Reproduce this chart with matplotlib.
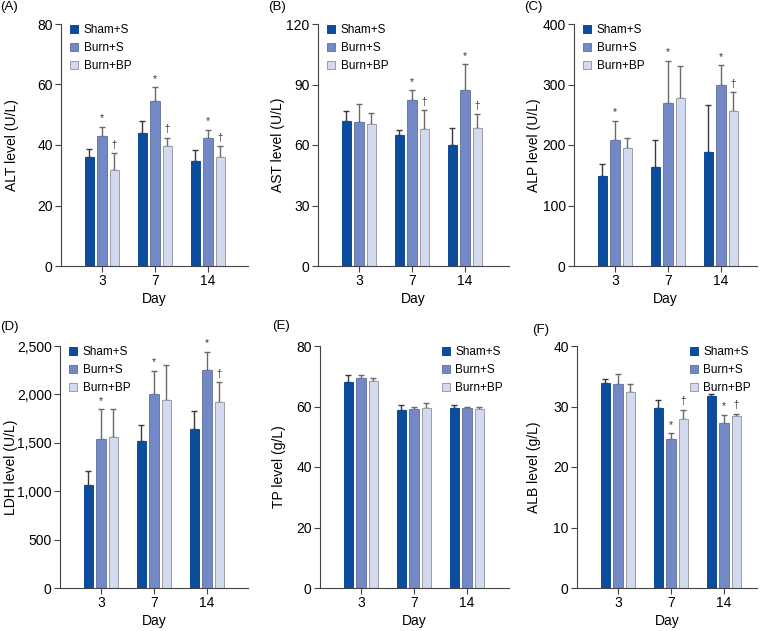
import numpy as np
import matplotlib
matplotlib.use('Agg')
import matplotlib.pyplot as plt
from matplotlib.ticker import FuncFormatter

plt.rcParams['font.family'] = ['Liberation Sans', 'DejaVu Sans']

days = ['3', '7', '14']
groups = ['Sham+S', 'Burn+S', 'Burn+BP']

# means and upper error-bar ends, rows = groups, cols = days
alt_mean = [[35.9, 44.0, 34.7], [42.9, 54.4, 42.4], [31.7, 39.6, 35.9]]
alt_top = [[38.6, 47.8, 38.2], [46.1, 59.1, 45.0], [37.2, 42.4, 39.6]]
ast_mean = [[71.7, 64.8, 59.8], [71.2, 82.3, 87.1], [70.6, 67.8, 68.6]]
ast_top = [[76.8, 67.3, 68.3], [80.2, 87.1, 100.1], [75.7, 77.2, 75.2]]
alp_mean = [[149, 163, 189], [209, 269, 299], [195, 277, 256]]
alp_top = [[168, 209, 266], [240, 339, 332], [212, 330, 287]]
ldh_mean = [[1064, 1515, 1645], [1538, 2002, 2257], [1562, 1947, 1917]]
ldh_top = [[1212, 1686, 1830], [1845, 2246, 2438], [1845, 2304, 2126]]
tp_mean = [[68.1, 58.8, 59.6], [69.5, 59.2, 59.4], [68.4, 59.6, 59.2]]
tp_top = [[70.4, 60.4, 60.5], [70.4, 60.0, 60.0], [69.3, 61.1, 60.0]]
alb_mean = [[33.9, 29.7, 31.7], [33.7, 24.7, 27.3], [32.4, 27.9, 28.4]]
alb_top = [[34.6, 31.0, 32.1], [35.3, 25.6, 28.6], [33.7, 29.5, 28.8]]

# significance marks: (group index, day index, symbol)
alt_sig = [(1, 0, '*'), (1, 1, '*'), (1, 2, '*'), (2, 0, '†'), (2, 1, '†'), (2, 2, '†')]
ast_sig = [(1, 1, '*'), (1, 2, '*'), (2, 1, '†'), (2, 2, '†')]
alp_sig = [(1, 0, '*'), (1, 1, '*'), (1, 2, '*'), (2, 2, '†')]
ldh_sig = [(1, 0, '*'), (1, 1, '*'), (1, 2, '*'), (2, 2, '†')]
tp_sig = []
alb_sig = [(1, 1, '*'), (1, 2, '*'), (2, 1, '†'), (2, 2, '†')]

colors = ['#0b4c9c', '#7389c7', '#d3d9ee']
edges = ['#0b4c9c', '#6d7aa0', '#9a9ca6']
ecols = ['#3a3a3a', '#6a6a6a', '#6a6a6a']

W, H = 763, 631
fig = plt.figure(figsize=(W / 100, H / 100), dpi=100)

def pix_axes(l, r, t, b):
    return fig.add_axes([l / W, 1 - b / H, (r - l) / W, (b - t) / H])

# label, y label, means, error tops, marks, y max, y step, axes box (px),
# legend corner, panel letter position (px), y label centre x (px)
panels = [
    ('(A)', 'ALT level (U/L)', alt_mean, alt_top, alt_sig, 80, 20, (61, 248, 24, 266), 'upper left', (0, 7), 12),
    ('(B)', 'AST level (U/L)', ast_mean, ast_top, ast_sig, 120, 30, (318, 509, 24, 266), 'upper left', (268, 7), 278),
    ('(C)', 'ALP level (U/L)', alp_mean, alp_top, alp_sig, 400, 100, (574, 757, 24, 266), 'upper left', (524, 7), 534),
    ('(D)', 'LDH level (U/L)', ldh_mean, ldh_top, ldh_sig, 2500, 500, (60, 248, 346, 588), 'upper left', (0, 327), 11),
    ('(E)', 'TP level (g/L)', tp_mean, tp_top, tp_sig, 80, 20, (320, 509, 346, 588), 'upper right', (272, 326), 279),
    ('(F)', 'ALB level (g/L)', alb_mean, alb_top, alb_sig, 40, 10, (577, 757, 346, 588), 'upper right', (532, 330), 534),
]

x = np.arange(len(days))
bw = 0.18
off = 0.236
for lab, ylab, mean, top, sig, ymax, ystep, box, loc, lpos, yl_x in panels:
    l, r, t, b = box
    ax = pix_axes(l, r, t, b)
    mean = np.array(mean, dtype=float)
    top = np.array(top, dtype=float)
    for g in range(3):
        xs = x + (g - 1) * off
        ax.bar(xs, mean[g], bw, color=colors[g], edgecolor=edges[g], lw=0.7,
               label=groups[g], zorder=2)
        err = np.vstack([np.zeros(3), top[g] - mean[g]])
        ax.errorbar(xs, mean[g], yerr=err, fmt='none', ecolor=ecols[g],
                    elinewidth=1, capsize=2.5, capthick=1, zorder=1)
    for g, d, s in sig:
        ax.annotate(s, (x[d] + (g - 1) * off, top[g][d]), xytext=(0, 2.5),
                    textcoords='offset points', ha='center', va='bottom',
                    fontsize=7.5 if s == '*' else 7, color='#333333')
    ax.set_xlim(-0.77, -0.77 + (r - l) / 53.0)
    ax.set_ylim(0, ymax)
    ax.set_yticks(np.arange(0, ymax + 1, ystep))
    if ymax >= 1000:
        ax.yaxis.set_major_formatter(FuncFormatter(lambda v, p: '{:,.0f}'.format(v)))
    ax.set_xticks(x)
    ax.set_xticklabels(days)
    for s in ['top', 'right']:
        ax.spines[s].set_visible(False)
    for s in ['left', 'bottom']:
        ax.spines[s].set_color('#444444')
        ax.spines[s].set_linewidth(0.8)
    ax.tick_params(length=4, width=0.8, color='#444444', labelsize=10, pad=2)
    ax.set_ylabel(ylab, fontsize=10, va='center')
    ax.yaxis.set_label_coords((yl_x - l) / (r - l), 0.5)
    ax.set_xlabel('Day', fontsize=10, labelpad=3)
    if loc == 'upper left':
        anchor = (9.0 / (r - l), 1.0)
    else:
        anchor = (1 - 6.0 / (r - l), 1.0)
    ax.legend(loc=loc, bbox_to_anchor=anchor, frameon=False, fontsize=8.5,
              handlelength=0.7, handleheight=0.7, handletextpad=0.45,
              labelspacing=0.5, borderpad=0, borderaxespad=0)
    fig.text(lpos[0] / W, 1 - lpos[1] / H, lab, fontsize=9.5, va='center', ha='left')

fig.savefig('out.png', dpi=100)
